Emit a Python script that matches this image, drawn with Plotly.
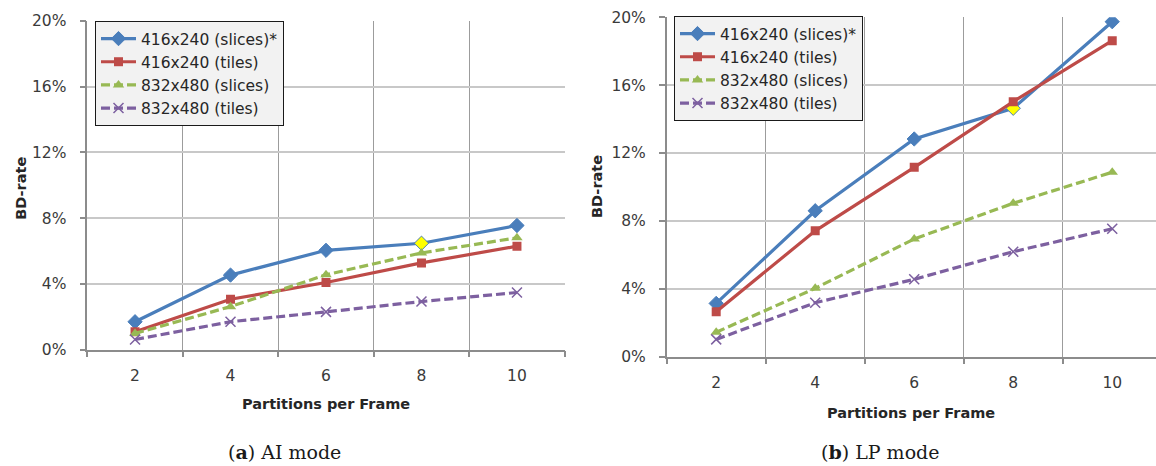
import plotly.graph_objects as go

# Partitions per frame (category axis)
partitions = ["2", "4", "6", "8", "10"]

# BD-rate (%) — AI mode
ai_416_slices = [1.69, 4.53, 6.04, 6.47, 7.55]
ai_416_tiles = [1.08, 3.06, 4.08, 5.27, 6.29]
ai_832_slices = [0.98, 2.61, 4.55, 5.88, 6.80]
ai_832_tiles = [0.61, 1.69, 2.29, 2.92, 3.47]

# BD-rate (%) — LP mode
lp_416_slices = [3.14, 8.60, 12.83, 14.64, 19.74]
lp_416_tiles = [2.65, 7.42, 11.16, 15.03, 18.62]
lp_832_slices = [1.44, 4.03, 6.94, 9.04, 10.87]
lp_832_tiles = [1.02, 3.18, 4.56, 6.19, 7.54]

series_names = ["416x240 (slices)*", "416x240 (tiles)", "832x480 (slices)", "832x480 (tiles)"]
y_ticks = [0, 4, 8, 12, 16, 20]
y_tick_labels = ["0%", "4%", "8%", "12%", "16%", "20%"]
captions = ["(<b>a</b>) AI mode", "(<b>b</b>) LP mode"]
highlight_index = 3  # highlighted point on the first series

W, H = 1156, 466
FONT = "DejaVu Sans"
TXT = "#3a3a3a"

BLUE, RED, GREEN, PURPLE = "#4a7ebb", "#be4b48", "#98b954", "#7d60a0"


def px(x):
    return x / W


def py(y):
    return 1 - y / H


fig = go.Figure()

panels = [
    ("x", "y", "legend", [ai_416_slices, ai_416_tiles, ai_832_slices, ai_832_tiles]),
    ("x2", "y2", "legend2", [lp_416_slices, lp_416_tiles, lp_832_slices, lp_832_tiles]),
]

for xa, ya, lg, data in panels:
    s1, s2, s3, s4 = data
    fills = [BLUE] * len(partitions)
    fills[highlight_index] = "#ffff00"
    fig.add_trace(go.Scatter(
        x=partitions, y=s1, name=series_names[0], mode="lines+markers",
        line=dict(color=BLUE, width=3.2),
        marker=dict(symbol="diamond", size=11, color=fills,
                    line=dict(color=BLUE, width=1)),
        xaxis=xa, yaxis=ya, legend=lg))
    fig.add_trace(go.Scatter(
        x=partitions, y=s2, name=series_names[1], mode="lines+markers",
        line=dict(color=RED, width=3.2),
        marker=dict(symbol="square", size=9, color=RED),
        xaxis=xa, yaxis=ya, legend=lg))
    fig.add_trace(go.Scatter(
        x=partitions, y=s3, name=series_names[2], mode="lines+markers",
        line=dict(color=GREEN, width=3.2, dash="9px,4px"),
        marker=dict(symbol="triangle-up", size=10, color=GREEN),
        xaxis=xa, yaxis=ya, legend=lg))
    fig.add_trace(go.Scatter(
        x=partitions, y=s4, name=series_names[3], mode="lines+markers",
        line=dict(color=PURPLE, width=3.2, dash="9px,4px"),
        marker=dict(symbol="x-thin", size=10, color=PURPLE,
                    line=dict(color=PURPLE, width=1.5)),
        xaxis=xa, yaxis=ya, legend=lg))

xaxis_common = dict(
    type="category", tickson="boundaries", showgrid=True, automargin=False,
    gridcolor="#9c9c9c", gridwidth=1,
    showline=True, linecolor="#8c8c8c", linewidth=1.5,
    ticks="outside", ticklen=6, tickcolor="#8c8c8c", tickwidth=1.5,
    tickfont=dict(family=FONT, size=15.5, color=TXT),
    ticklabelstandoff=11, zeroline=False, fixedrange=True,
)
yaxis_common = dict(
    range=[0, 20], tickvals=y_ticks, ticktext=y_tick_labels, automargin=False,
    showgrid=True, gridcolor="#c8c8c8", gridwidth=1.6,
    showline=True, linecolor="#8c8c8c", linewidth=1.5,
    ticks="outside", ticklen=6, tickcolor="#8c8c8c", tickwidth=1.5,
    tickfont=dict(family=FONT, size=15.5, color=TXT),
    ticklabelstandoff=10, zeroline=False, fixedrange=True,
)

legend_common = dict(
    bgcolor="#f2f2f2", bordercolor="#1a1a1a", borderwidth=1,
    font=dict(family=FONT, size=15.5, color="#262626"),
    xanchor="left", yanchor="top", itemwidth=35,
    tracegroupgap=0, itemclick=False, itemdoubleclick=False,
)

fig.update_layout(
    width=W, height=H,
    margin=dict(l=0, r=0, t=0, b=0, autoexpand=False),
    paper_bgcolor="white", plot_bgcolor="white",
    xaxis=dict(domain=[px(87.3), px(564.7)], range=[-0.5, 4.5], anchor="y", **xaxis_common),
    yaxis=dict(domain=[py(349.5), py(21)], anchor="x", **yaxis_common),
    xaxis2=dict(domain=[px(666.7), 1.0], range=[-0.5, 4.442], anchor="y2", **xaxis_common),
    yaxis2=dict(domain=[py(356.7), py(17.3)], anchor="x2", **yaxis_common),
    legend=dict(x=px(95), y=py(21), **legend_common),
    legend2=dict(x=px(674), y=py(16), **legend_common),
    showlegend=True,
)

title_font = dict(family=FONT, size=14.5, color="#262626", weight="bold")
annotations = [
    dict(text="BD-rate", x=px(20.8), y=py(188), textangle=-90),
    dict(text="BD-rate", x=px(597), y=py(187), textangle=-90),
    dict(text="Partitions per Frame", x=px(326), y=py(404)),
    dict(text="Partitions per Frame", x=px(911), y=py(413)),
]
for a in annotations:
    fig.add_annotation(xref="paper", yref="paper", showarrow=False,
                       xanchor="center", yanchor="middle", font=title_font, **a)

for text, cx in zip(captions, [284, 880]):
    fig.add_annotation(text=text, xref="paper", yref="paper", x=px(cx), y=py(452),
                       showarrow=False, xanchor="center", yanchor="middle",
                       font=dict(family="DejaVu Serif", size=19, color="#1a1a1a"))

fig.write_html("out.html")
